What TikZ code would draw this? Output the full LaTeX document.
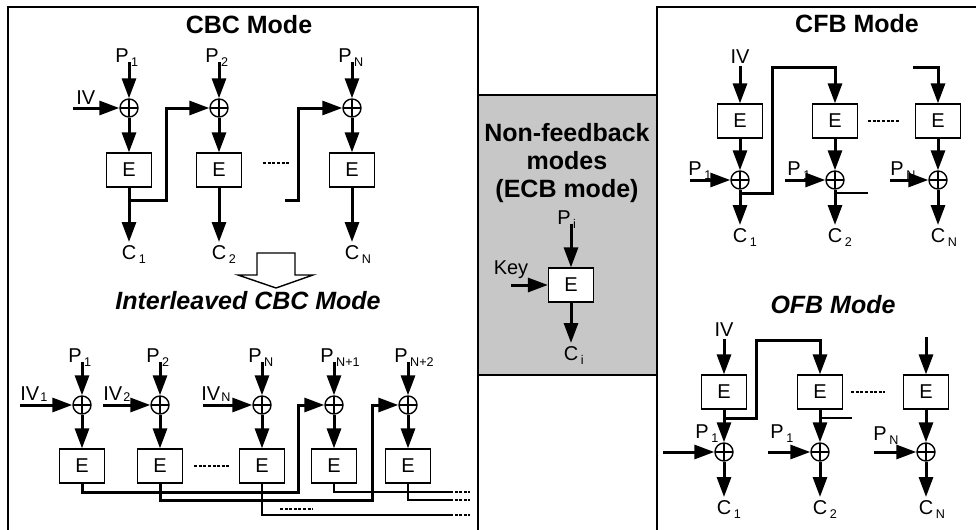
\documentclass[tikz,border=0pt]{standalone}
\usepackage{fontspec}
\setmainfont{Liberation Sans}
\usepackage{tikz}
\usetikzlibrary{arrows.meta,calc,positioning}
\newcommand{\etqfont}{\fontsize{10}{11}\selectfont}
\newcommand{\titfont}{\fontsize{12.5}{14}\selectfont\bfseries}
\newcommand{\bajo}[1]{\kern1.3pt\raisebox{-2pt}{\fontsize{6.3}{6.5}\selectfont #1}}
\newcommand{\bajoa}[1]{\kern0.5pt\raisebox{-0.5pt}{\fontsize{6.3}{6.5}\selectfont #1}}
\tikzset{
  marco/.style={line width=0.7pt},
  caja/.style={draw,line width=0.6pt,fill=white,minimum width=22.5pt,minimum height=17pt,inner sep=0pt,font=\etqfont},
  suma/.style={circle,draw,line width=0.7pt,fill=white,minimum size=9pt,inner sep=0pt,
    path picture={\draw[line width=0.6pt] (path picture bounding box.north) -- (path picture bounding box.south)
      (path picture bounding box.west) -- (path picture bounding box.east);}},
  flecha/.style={-{Triangle[length=10pt,width=7pt]},line width=1.5pt},
  linea/.style={line width=1.3pt},
  puntos/.style={line width=0.9pt,dash pattern=on 1.5pt off 0.8pt},
  etq/.style={font=\etqfont,inner sep=1.5pt},
  titulo/.style={font=\titfont},
  tituloit/.style={font=\titfont\itshape}
}
\begin{document}
\begin{tikzpicture}[x=0.5pt,y=-0.5pt]
\useasboundingbox (0,0) rectangle (976,530);
% marcos
\fill[black!22] (478,95) rectangle (657,375);
\draw[marco] (8,530) -- (8,7) -- (478,7) -- (478,530);
\draw[marco] (657,530) -- (657,7) -- (976,7);
\draw[marco] (478,95) -- (657,95) (478,375) -- (657,375);

% CBC
\node[titulo] (tcbc) at (249,25) {CBC Mode};
\node[etq,anchor=base east] (cp1) at (132,62) {P\rlap{\bajo{1}}};
\node[etq,anchor=base east] (cp2) at (222,62) {P\rlap{\bajo{2}}};
\node[etq,anchor=base east] (cpn) at (355,62) {P\rlap{\bajo{N}}};
\node[suma] (cx1) at (129,108) {};
\node[suma] (cx2) at (219,108) {};
\node[suma] (cxn) at (352,108) {};
\node[caja] (ce1) at (129,170) {E};
\node[caja] (ce2) at (219,170) {E};
\node[caja] (cen) at (352,170) {E};
\node[etq,anchor=north] (cc1) at (129,242) {C\rlap{\bajo{1}}};
\node[etq,anchor=north] (cc2) at (219,242) {C\rlap{\bajo{2}}};
\node[etq,anchor=north] (ccn) at (352,242) {C\rlap{\bajo{N}}};
\coordinate (civ) at (73,108);
\node[etq,anchor=south west] (lciv) at (civ) {IV};
\coordinate (cr1) at (166,200);
\coordinate (crn) at (285,200);
\coordinate (crn2) at (298,200);
\draw[flecha] (civ) -- (cx1.west);
\draw[flecha] (cp1.base -| cx1) -- (cx1.north);
\draw[flecha] (cp2.base -| cx2) -- (cx2.north);
\draw[flecha] (cpn.base -| cxn) -- (cxn.north);
\draw[flecha] (cx1) -- (ce1);
\draw[flecha] (cx2) -- (ce2);
\draw[flecha] (cxn) -- (cen);
\draw[flecha] (ce1) -- (cc1);
\draw[flecha] (ce2) -- (cc2);
\draw[flecha] (cen) -- (ccn);
\draw[flecha] (ce1.south) |- (cr1) |- (cx2.west);
\draw[flecha] (crn) -- (crn2) |- (cxn.west);
\draw[puntos] ($(ce2.east)+(21,-7)$) -- ($(cen.west)+(-40,-7)$);
\draw[line width=0.7pt] (257,253) -- (295,253) -- (295,275) -- (313,275) -- (276,288) -- (238,275) -- (257,275) -- cycle;

% CBC intercalado
\node[tituloit] (tint) at (248,301) {Interleaved CBC Mode};
\node[etq,anchor=base east] (ip1) at (85,362) {P\rlap{\bajo{1}}};
\node[etq,anchor=base east] (ip2) at (163,362) {P\rlap{\bajo{2}}};
\node[etq,anchor=base east] (ip3) at (265,362) {P\rlap{\bajo{N}}};
\node[etq,anchor=base east] (ip4) at (337,362) {P\rlap{\bajo{N+1}}};
\node[etq,anchor=base east] (ip5) at (411,362) {P\rlap{\bajo{N+2}}};
\node[suma] (ix1) at (82,405) {};
\node[suma] (ix2) at (160,405) {};
\node[suma] (ix3) at (262,405) {};
\node[suma] (ix4) at (334,405) {};
\node[suma] (ix5) at (408,405) {};
\node[caja] (ie1) at (82,466) {E};
\node[caja] (ie2) at (160,466) {E};
\node[caja] (ie3) at (262,466) {E};
\node[caja] (ie4) at (334,466) {E};
\node[caja] (ie5) at (408,466) {E};
\coordinate (iv1) at (20,405);
\coordinate (iv2) at (103,405);
\coordinate (ivn) at (203,405);
\node[etq,anchor=base west] (liv1) at (17,400) {IV\bajoa{1}};
\node[etq,anchor=base west] (liv2) at (100,400) {IV\bajoa{2}};
\node[etq,anchor=base west] (livn) at (198,400) {IV\bajoa{N}};
\coordinate (i1) at (298,492);
\coordinate (i2) at (372,500);
\coordinate (o3) at (450,515);
\coordinate (o4) at (450,492);
\coordinate (o5) at (450,500);
\draw[flecha] (iv1) -- (ix1.west);
\draw[flecha] (iv2) -- (ix2.west);
\draw[flecha] (ivn) -- (ix3.west);
\draw[flecha] (ip1.base -| ix1) -- (ix1.north);
\draw[flecha] (ip2.base -| ix2) -- (ix2.north);
\draw[flecha] (ip3.base -| ix3) -- (ix3.north);
\draw[flecha] (ip4.base -| ix4) -- (ix4.north);
\draw[flecha] (ip5.base -| ix5) -- (ix5.north);
\draw[flecha] (ix1) -- (ie1);
\draw[flecha] (ix2) -- (ie2);
\draw[flecha] (ix3) -- (ie3);
\draw[flecha] (ix4) -- (ie4);
\draw[flecha] (ix5) -- (ie5);
\draw[flecha] (ie1.south) |- (i1) |- (ix4.west);
\draw[flecha] (ie2.south) |- (i2) |- (ix5.west);
\draw[linea] (ie3.south) |- (o3);
\draw[linea] (ie4.south) |- (o4);
\draw[linea] (ie5.south) |- (o5);
\draw[puntos] (o3) -- ++(20,0);
\draw[puntos] (o4) -- ++(20,0);
\draw[puntos] (o5) -- ++(20,0);
\draw[puntos] ($(ie2.east)+(11,0)$) -- ($(ie3.west)+(-10,0)$);
\draw[puntos] ($(ie3.south)+(18,25)$) -- ++(33,0);

% ECB
\node[titulo,align=center] (tecb) at (567,163) {Non-feedback\\modes\\(ECB mode)};
\node[etq,anchor=base east] (mpi) at (574,224) {P\rlap{\bajo{i}}};
\node[caja] (me) at (571,285) {E};
\node[etq,anchor=north] (mci) at (571,343) {C\rlap{\bajo{i}}};
\coordinate (mkey) at (511,285);
\node[etq,anchor=base] (lkey) at (511,274) {Key};
\draw[flecha] (mpi.base -| me) -- (me.north);
\draw[flecha] (mkey) -- (me.west);
\draw[flecha] (me) -- (mci);

% CFB
\node[titulo] (tcfb) at (857,24) {CFB Mode};
\node[etq,anchor=base] (fiv) at (740,63) {IV};
\node[caja] (fe1) at (740,121) {E};
\node[caja] (fe2) at (835,121) {E};
\node[caja] (fe3) at (938,121) {E};
\node[suma] (fx1) at (740,180) {};
\node[suma] (fx2) at (835,180) {};
\node[suma] (fx3) at (938,180) {};
\node[etq,anchor=north] (fc1) at (740,225) {C\rlap{\bajo{1}}};
\node[etq,anchor=north] (fc2) at (835,225) {C\rlap{\bajo{2}}};
\node[etq,anchor=north] (fc3) at (938,225) {C\rlap{\bajo{N}}};
\coordinate (fp1) at (690,180);
\coordinate (fp2) at (785,180);
\coordinate (fp3) at (890,180);
\node[etq,anchor=base west] (lfp1) at (685,175) {P\bajo{1}};
\node[etq,anchor=base west] (lfp2) at (784,175) {P\bajo{1}};
\node[etq,anchor=base west] (lfp3) at (887,175) {P\bajo{N}};
\coordinate (fa) at (772,193);
\coordinate (fb) at (772,67);
\coordinate (fs) at (868,193);
\coordinate (fin) at (913,67);
\draw[flecha] (fiv) -- (fe1);
\draw[flecha] (fe1) -- (fx1);
\draw[flecha] (fe2) -- (fx2);
\draw[flecha] (fe3) -- (fx3);
\draw[flecha] (fp1) -- (fx1.west);
\draw[flecha] (fp2) -- (fx2.west);
\draw[flecha] (fp3) -- (fx3.west);
\draw[flecha] (fx1) -- (fc1);
\draw[flecha] (fx2) -- (fc2);
\draw[flecha] (fx3) -- (fc3);
\draw[flecha] (fx1.south) |- (fa) -- (fb) -| (fe2.north);
\draw[linea] (fx2.south) |- (fs);
\draw[flecha] (fin) -| (fe3.north);
\draw[puntos] ($(fe2.east)+(10,0)$) -- ($(fe3.west)+(-15,0)$);

% OFB
\node[tituloit] (tofb) at (833,305) {OFB Mode};
\node[etq,anchor=base] (oiv) at (724,336) {IV};
\node[caja] (oe1) at (724,392) {E};
\node[caja] (oe2) at (820,392) {E};
\node[caja] (oe3) at (926,392) {E};
\node[suma] (ox1) at (724,452) {};
\node[suma] (ox2) at (820,452) {};
\node[suma] (ox3) at (926,452) {};
\node[etq,anchor=north] (oc1) at (724,497) {C\rlap{\bajo{1}}};
\node[etq,anchor=north] (oc2) at (820,497) {C\rlap{\bajo{2}}};
\node[etq,anchor=north] (oc3) at (926,497) {C\rlap{\bajo{N}}};
\coordinate (op1) at (663,452);
\coordinate (op2) at (768,452);
\coordinate (op3) at (874,452);
\node[etq,anchor=base west] (lop1) at (692,438) {P\bajo{1}};
\node[etq,anchor=base west] (lop2) at (767,438) {P\bajo{1}};
\node[etq,anchor=base west] (lop3) at (870,440) {P\bajo{N}};
\coordinate (g1) at (756,418);
\coordinate (g2) at (756,340);
\coordinate (os) at (852,418);
\coordinate (oin) at (926,337);
\draw[flecha] (oiv) -- (oe1);
\draw[flecha] (oe1) -- (ox1);
\draw[flecha] (oe2) -- (ox2);
\draw[flecha] (oe3) -- (ox3);
\draw[flecha] (op1) -- (ox1.west);
\draw[flecha] (op2) -- (ox2.west);
\draw[flecha] (op3) -- (ox3.west);
\draw[flecha] (ox1) -- (oc1);
\draw[flecha] (ox2) -- (oc2);
\draw[flecha] (ox3) -- (oc3);
\draw[flecha] (oe1.south) |- (g1) -- (g2) -| (oe2.north);
\draw[linea] (oe2.south) |- (os);
\draw[flecha] (oin) -- (oe3.north);
\draw[puntos] ($(oe2.east)+(8,0)$) -- ($(oe3.west)+(-18,0)$);
\end{tikzpicture}
\end{document}
